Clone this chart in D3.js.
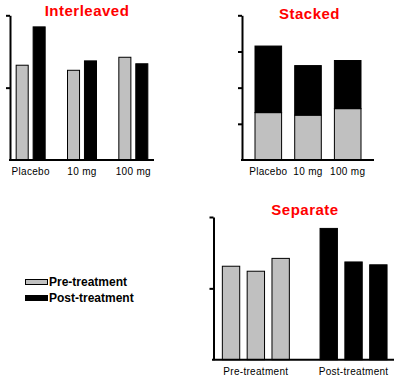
<!DOCTYPE html>
<html>
<head>
<meta charset="utf-8">
<script src="https://cdn.jsdelivr.net/npm/d3@7"></script>
<style>
  body { margin: 0; background: #fff; }
  svg { display: block; }
  .title { font-family: Arial, "Liberation Sans", sans-serif; font-weight: bold; font-size: 15px; fill: #ff0000; letter-spacing: 0.5px; }
  .lbl { font-family: Arial, "Liberation Sans", sans-serif; font-size: 10px; fill: #000; letter-spacing: 0.3px; }
  .leg { font-family: Arial, "Liberation Sans", sans-serif; font-weight: bold; font-size: 12px; fill: #000; }
</style>
</head>
<body>
<svg id="chart" width="399" height="378"></svg>
<script>
var groups = ['Placebo', '10 mg', '100 mg'];
var phases = ['Pre-treatment', 'Post-treatment'];
var pre = [1.31, 1.24, 1.42];
var post = [1.84, 1.37, 1.33];
var colors = {'Pre-treatment': '#c0c0c0', 'Post-treatment': '#000000'};

var svg = d3.select('#chart');

function yAxis(g, y, ticks) {
    g.call(d3.axisLeft(y).tickValues(ticks).tickSize(4).tickSizeOuter(0).tickFormat(''));
    g.selectAll('path, line').attr('stroke', '#000').attr('stroke-width', 2);
}

function xLine(g, y, x1, x2) {
    g.append('line')
        .attr('x1', x1).attr('x2', x2)
        .attr('y1', y(0)).attr('y2', y(0))
        .attr('stroke', '#000').attr('stroke-width', 2);
}

// ---- Interleaved ----
var y1 = d3.scaleLinear().domain([0, 2]).range([160, 15.3]);
var x1 = d3.scaleBand().domain(groups).range([5, 159]);
var xs1 = d3.scaleBand().domain(phases)
    .range([x1.bandwidth() / 2 - 14.5, x1.bandwidth() / 2 + 14.5]).paddingInner(0.29);
var p1 = svg.append('g');
var rows = groups.map(function(g, i) { return {group: g, 'Pre-treatment': pre[i], 'Post-treatment': post[i]}; });
rows.forEach(function(r) {
    phases.forEach(function(ph) {
        p1.append('rect')
            .attr('x', x1(r.group) + xs1(ph))
            .attr('y', y1(r[ph]))
            .attr('width', xs1.bandwidth())
            .attr('height', y1(0) - y1(r[ph]))
            .attr('fill', colors[ph])
            .attr('stroke', '#000').attr('stroke-width', 1);
    });
    p1.append('text').attr('class', 'lbl')
        .attr('x', x1(r.group) + x1.bandwidth() / 2).attr('y', 175)
        .attr('text-anchor', 'middle').text(r.group);
});
xLine(p1, y1, 9, 154);
yAxis(p1.append('g').attr('transform', 'translate(10,0)'), y1, [1, 2]);
p1.append('text').attr('class', 'title').attr('x', 87).attr('y', 15.5)
    .attr('text-anchor', 'middle').text('Interleaved');

// ---- Stacked ----
var y2 = d3.scaleLinear().domain([0, 4]).range([160, 15.3]);
var x2 = d3.scaleBand().domain(groups).range([255, 361]).paddingInner(0.33);
var stack = d3.stack().keys(phases)(rows);
var p2 = svg.append('g');
stack.forEach(function(layer) {
    layer.forEach(function(d) {
        p2.append('rect')
            .attr('x', x2(d.data.group))
            .attr('y', y2(d[1]))
            .attr('width', x2.bandwidth())
            .attr('height', y2(d[0]) - y2(d[1]))
            .attr('fill', colors[layer.key])
            .attr('stroke', '#000').attr('stroke-width', 1);
    });
});
groups.forEach(function(g) {
    p2.append('text').attr('class', 'lbl')
        .attr('x', x2(g) + x2.bandwidth() / 2).attr('y', 175)
        .attr('text-anchor', 'middle').text(g);
});
xLine(p2, y2, 241, 374);
yAxis(p2.append('g').attr('transform', 'translate(242,0)'), y2, [1, 2, 3, 4]);
p2.append('text').attr('class', 'title').attr('x', 309.5).attr('y', 19)
    .attr('text-anchor', 'middle').text('Stacked');

// ---- Separate ----
var y3 = d3.scaleLinear().domain([0, 2]).range([359.7, 217]);
var x3 = d3.scaleBand().domain(phases).range([207, 402.4]);
var xs3 = d3.scaleBand().domain(groups)
    .range([x3.bandwidth() / 2 - 33.5, x3.bandwidth() / 2 + 33.5]).paddingInner(0.3);
var p3 = svg.append('g');
var series = {'Pre-treatment': pre, 'Post-treatment': post};
phases.forEach(function(ph) {
    series[ph].forEach(function(v, i) {
        p3.append('rect')
            .attr('x', x3(ph) + xs3(groups[i]))
            .attr('y', y3(v))
            .attr('width', xs3.bandwidth())
            .attr('height', y3(0) - y3(v))
            .attr('fill', colors[ph])
            .attr('stroke', '#000').attr('stroke-width', 1);
    });
    p3.append('text').attr('class', 'lbl')
        .attr('x', x3(ph) + x3.bandwidth() / 2).attr('y', 375)
        .attr('text-anchor', 'middle').text(ph);
});
xLine(p3, y3, 212, 394);
yAxis(p3.append('g').attr('transform', 'translate(213.5,0)'), y3, [1, 2]);
p3.append('text').attr('class', 'title').attr('x', 305).attr('y', 214.5)
    .attr('text-anchor', 'middle').text('Separate');

// ---- Legend ----
var leg = svg.append('g');
phases.forEach(function(ph, i) {
    leg.append('rect')
        .attr('x', 25.5).attr('y', 279.5 + i * 16)
        .attr('width', 22).attr('height', 5)
        .attr('fill', colors[ph]).attr('stroke', '#000').attr('stroke-width', 1);
    leg.append('text').attr('class', 'leg')
        .attr('x', 49).attr('y', 286 + i * 16).text(ph);
});
</script>
</body>
</html>
